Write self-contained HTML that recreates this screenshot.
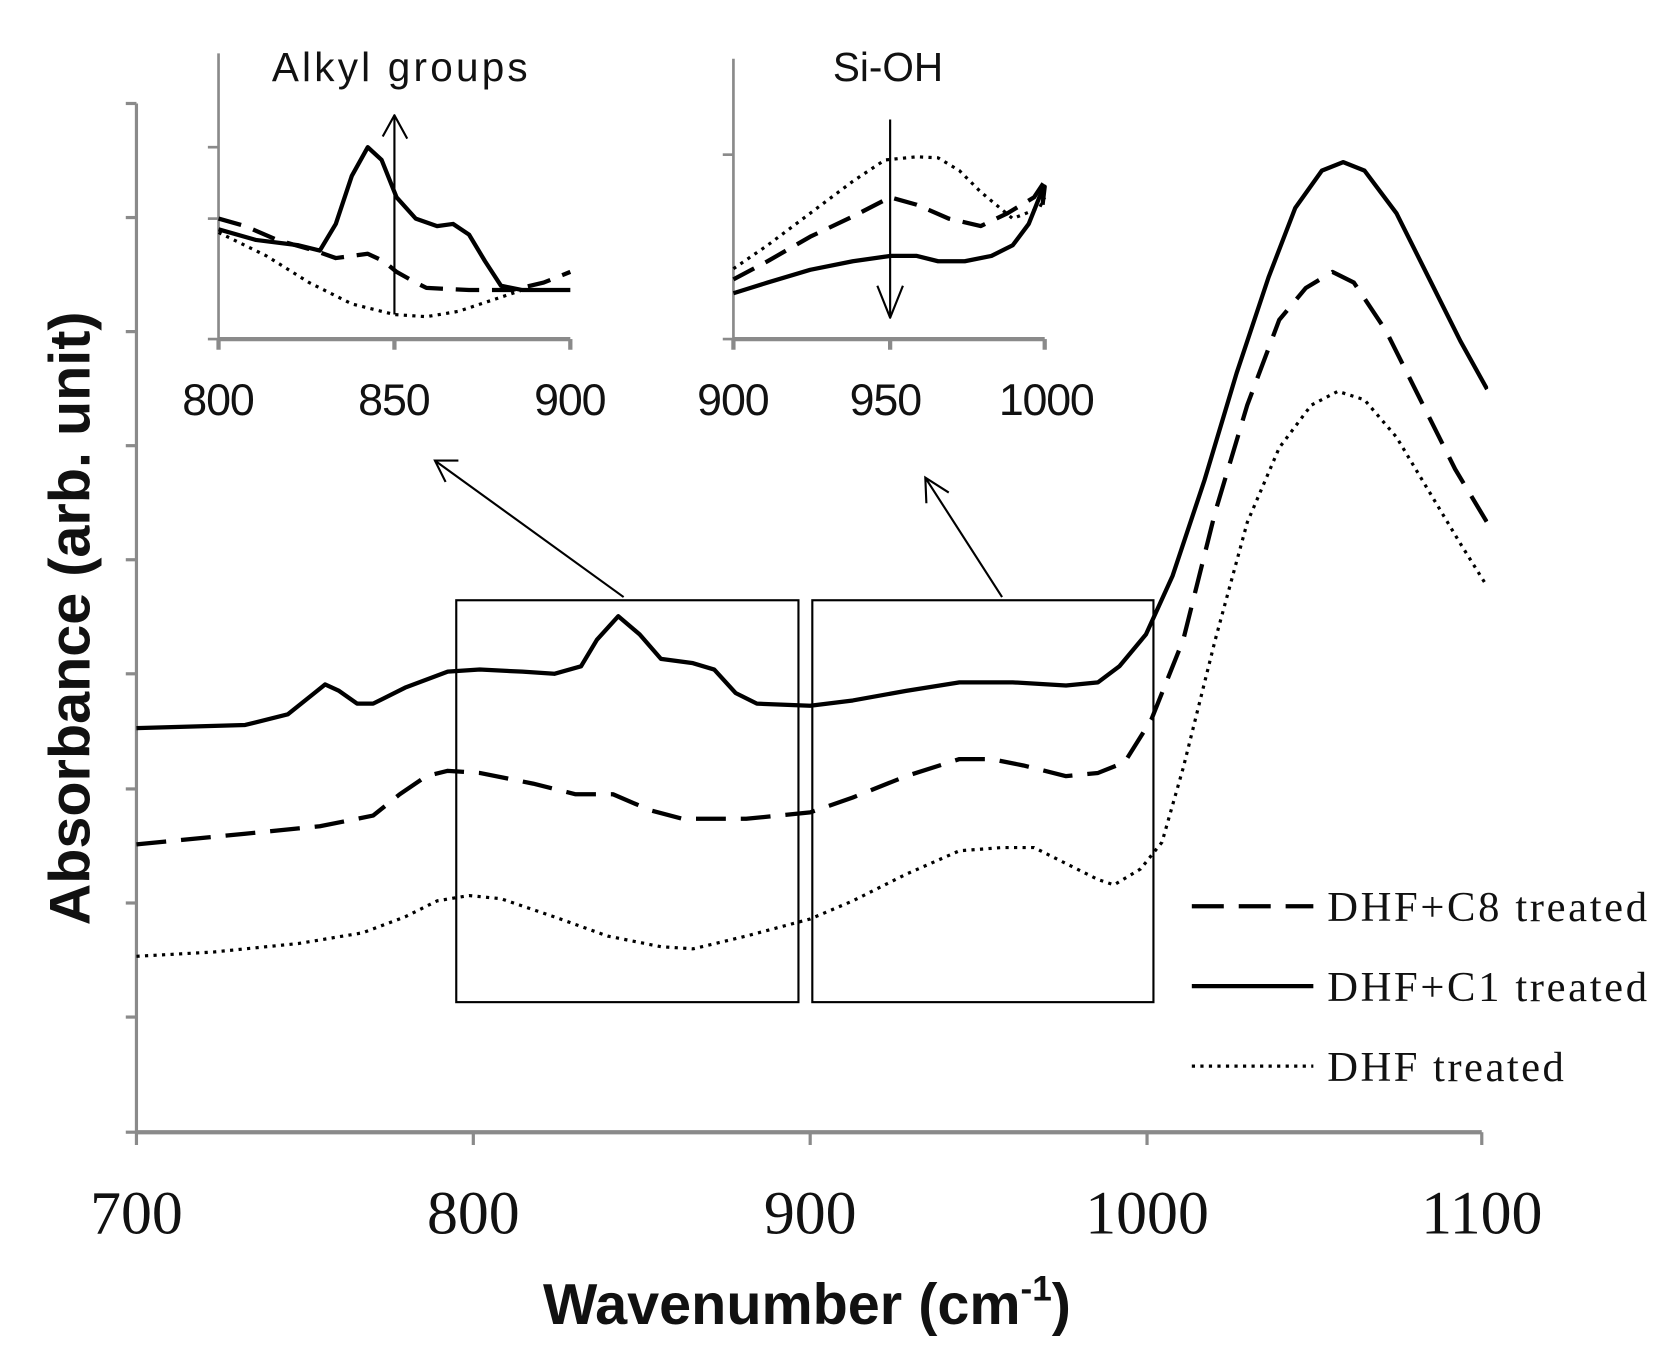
<!DOCTYPE html>
<html><head><meta charset="utf-8"><style>
html,body{margin:0;padding:0;background:#fff;}
svg{display:block;}
</style></head><body>
<svg width="1663" height="1370" viewBox="0 0 1560 1285" xmlns="http://www.w3.org/2000/svg">
<rect x="0" y="0" width="1560" height="1285" fill="#fff"/>
<g stroke="#8a8a8a" stroke-width="3" fill="none">
<line x1="128" y1="97" x2="128" y2="1062"/>
<line x1="128" y1="1062" x2="1390" y2="1062" stroke-width="4"/>
<line x1="118" y1="97" x2="128" y2="97"/>
<line x1="118" y1="204" x2="128" y2="204"/>
<line x1="118" y1="311" x2="128" y2="311"/>
<line x1="118" y1="418" x2="128" y2="418"/>
<line x1="118" y1="525" x2="128" y2="525"/>
<line x1="118" y1="632" x2="128" y2="632"/>
<line x1="118" y1="740" x2="128" y2="740"/>
<line x1="118" y1="847" x2="128" y2="847"/>
<line x1="118" y1="954" x2="128" y2="954"/>
<line x1="118" y1="1062" x2="128" y2="1062"/>
<line x1="128" y1="1062" x2="128" y2="1074"/>
<line x1="444" y1="1062" x2="444" y2="1074"/>
<line x1="760" y1="1062" x2="760" y2="1074"/>
<line x1="1076" y1="1062" x2="1076" y2="1074"/>
<line x1="1390" y1="1062" x2="1390" y2="1074"/>
</g>
<g font-family="Liberation Serif, serif" font-size="58" fill="#111" text-anchor="middle">
<text x="128" y="1157">700</text>
<text x="444" y="1157">800</text>
<text x="760" y="1157">900</text>
<text x="1076" y="1157">1000</text>
<text x="1390" y="1157">1100</text>
</g>
<text x="757" y="1242" font-family="Liberation Sans, sans-serif" font-weight="bold" font-size="54" text-anchor="middle" fill="#111">Wavenumber (cm<tspan font-size="33" dy="-22">-1</tspan><tspan dy="22">)</tspan></text>
<text transform="translate(84,580) rotate(-90)" font-family="Liberation Sans, sans-serif" font-weight="bold" font-size="54" text-anchor="middle" fill="#111">Absorbance (arb. unit)</text>

<g fill="none" stroke="#000" stroke-linejoin="round" stroke-linecap="butt">
<polyline stroke-width="4" points="128,683 230,680 270,670 295,650 305,642 318,648 335,660 350,660 380,645 420,630 450,628 490,630 520,632 545,625 560,600 580,578 600,595 620,618 650,622 670,628 690,650 710,660 760,662 800,657 850,648 900,640 950,640 1000,643 1030,640 1050,625 1075,595 1100,540 1130,450 1160,350 1190,260 1215,195 1240,160 1260,152 1280,160 1310,200 1340,260 1370,320 1395,365"/>
<polyline stroke-width="4" stroke-dasharray="28,14" points="128,792 230,782 300,775 350,765 375,745 400,728 420,723 450,725 500,735 540,745 575,745 610,760 640,768 700,768 760,762 800,748 850,728 900,712 930,712 960,718 1000,728 1030,725 1055,715 1080,675 1110,600 1140,480 1170,380 1200,300 1225,270 1250,255 1270,265 1300,310 1330,370 1365,440 1395,490"/>
<polyline stroke-width="3" stroke-dasharray="3,5" points="128,897 200,893 280,885 340,875 380,860 410,845 440,840 470,843 520,860 570,878 620,888 650,890 700,878 760,862 800,845 850,820 900,798 940,795 970,795 1000,810 1030,825 1045,830 1070,815 1090,790 1110,720 1140,600 1170,490 1200,420 1230,380 1255,367 1280,375 1310,410 1340,460 1370,510 1395,550"/>
</g>
<rect x="1396" y="0" width="164" height="560" fill="#fff"/>
<g fill="none" stroke="#000" stroke-width="2">
<rect x="428" y="563" width="321" height="377"/>
<rect x="762" y="563" width="320" height="377"/>
<line x1="585" y1="560" x2="408" y2="432"/>
<polyline points="430,432 408,432 418,452"/>
<line x1="940" y1="560" x2="868" y2="448"/>
<polyline points="890,462 868,448 869,472"/>
</g>

<g stroke="#8a8a8a" stroke-width="2.5" fill="none">
<line x1="205" y1="50" x2="205" y2="318"/>
<line x1="205" y1="318" x2="535" y2="318" stroke-width="4"/>
<line x1="195" y1="138" x2="205" y2="138"/>
<line x1="195" y1="205" x2="205" y2="205"/>
<line x1="195" y1="318" x2="205" y2="318"/>
<line x1="205" y1="318" x2="205" y2="328" stroke-width="4"/>
<line x1="370" y1="318" x2="370" y2="328" stroke-width="4"/>
<line x1="535" y1="318" x2="535" y2="328" stroke-width="4"/>
</g>
<g font-family="Liberation Sans, sans-serif" font-size="42" fill="#111" text-anchor="middle">
<text x="205" y="389" textLength="68">800</text>
<text x="370" y="389" textLength="68">850</text>
<text x="535" y="389" textLength="68">900</text>
<text x="375" y="76" font-size="38" textLength="240">Alkyl groups</text>
</g>
<g fill="none" stroke="#000" stroke-linejoin="round">
<polyline stroke-width="4" points="205,215 240,225 280,230 300,235 315,210 330,165 345,138 358,150 372,185 390,205 410,212 425,210 440,220 455,245 470,268 490,272 535,272"/>
<polyline stroke-width="4" stroke-dasharray="22,12" points="205,205 230,212 260,225 295,235 315,242 330,240 345,238 360,245 372,255 390,265 400,270 440,272 480,272 510,265 535,255"/>
<polyline stroke-width="3" stroke-dasharray="3,5" points="205,218 250,240 290,265 330,285 370,295 400,297 430,292 460,282 490,272"/>
<line stroke-width="2" x1="370" y1="295" x2="370" y2="108"/>
<polyline stroke-width="2" points="359,128 370,108 382,130"/>
</g>

<g stroke="#8a8a8a" stroke-width="2.5" fill="none">
<line x1="688" y1="55" x2="688" y2="318"/>
<line x1="688" y1="318" x2="980" y2="318" stroke-width="4"/>
<line x1="678" y1="145" x2="688" y2="145"/>
<line x1="678" y1="318" x2="688" y2="318"/>
<line x1="688" y1="318" x2="688" y2="328" stroke-width="4"/>
<line x1="835" y1="318" x2="835" y2="328" stroke-width="4"/>
<line x1="980" y1="318" x2="980" y2="328" stroke-width="4"/>
</g>
<g font-family="Liberation Sans, sans-serif" font-size="42" fill="#111" text-anchor="middle">
<text x="688" y="389" textLength="68">900</text>
<text x="831" y="389" textLength="68">950</text>
<text x="982" y="389" textLength="90">1000</text>
<text x="833" y="76" font-size="38">Si-OH</text>
</g>
<g fill="none" stroke="#000" stroke-linejoin="round">
<polyline stroke-width="4" points="688,275 720,265 760,253 800,245 835,240 860,240 880,245 905,245 930,240 950,230 965,210 975,185 980,175 978,192"/>
<polyline stroke-width="4" stroke-dasharray="22,12" points="688,262 720,245 760,222 800,203 835,185 860,192 890,205 920,212 945,200 970,185 980,170"/>
<polyline stroke-width="3" stroke-dasharray="3,5" points="688,252 720,230 760,200 800,170 830,150 860,147 880,148 900,160 920,180 950,205 975,195 980,185"/>
<line stroke-width="2" x1="835" y1="112" x2="835" y2="298"/>
<polyline stroke-width="2" points="823,268 835,298 847,268"/>
</g>

<g fill="none" stroke="#000">
<line x1="1118" y1="850" x2="1232" y2="850" stroke-width="4" stroke-dasharray="30,14"/>
<line x1="1118" y1="925" x2="1232" y2="925" stroke-width="4"/>
<line x1="1118" y1="1000" x2="1232" y2="1000" stroke-width="3" stroke-dasharray="3,5"/>
</g>
<g font-family="Liberation Serif, serif" font-size="40" fill="#111">
<text x="1245" y="864" textLength="300">DHF+C8 treated</text>
<text x="1245" y="939" textLength="300">DHF+C1 treated</text>
<text x="1245" y="1014" textLength="222">DHF treated</text>
</g>
</svg>
</body></html>
